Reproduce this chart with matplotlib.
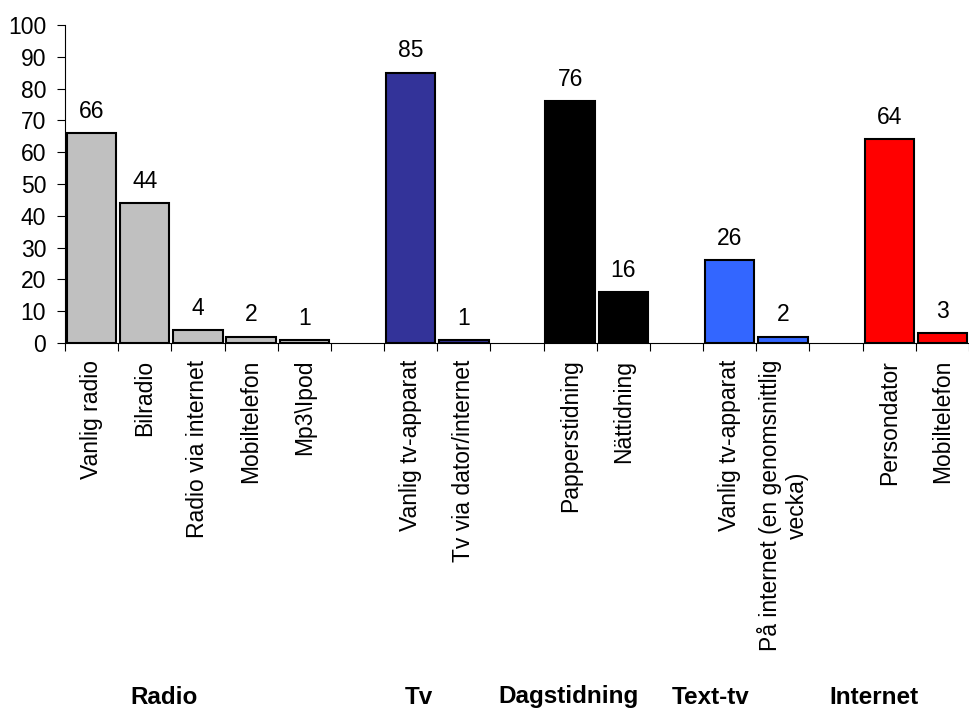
import matplotlib as mpl

mpl.use("Agg")

import matplotlib.pyplot as plt
import matplotlib.transforms as mtransforms
import numpy as np

# data
groups = ["Radio", "Tv", "Dagstidning", "Text-tv", "Internet"]
radio_labels = ["Vanlig radio", "Bilradio", "Radio via internet", "Mobiltelefon", "Mp3\\Ipod"]
radio_values = [66, 44, 4, 2, 1]
tv_labels = ["Vanlig tv-apparat", "Tv via dator/internet"]
tv_values = [85, 1]
dags_labels = ["Papperstidning", "Nättidning"]
dags_values = [76, 16]
texttv_labels = ["Vanlig tv-apparat", "På internet (en genomsnittlig\nvecka)"]
texttv_values = [26, 2]
internet_labels = ["Persondator", "Mobiltelefon"]
internet_values = [64, 3]

group_colors = ["#C0C0C0", "#333399", "#000000", "#3366FF", "#FF0000"]
# group label x (in slot units)
group_label_x = [1.86, 6.66, 9.46, 12.15, 15.21]

plt.rcParams["font.family"] = ["Liberation Sans", "DejaVu Sans"]

fig = plt.figure(figsize=(9.69, 7.09), dpi=100)
ax = fig.add_axes([65 / 969, 1 - 343 / 709, 904 / 969, (343 - 25) / 709])

all_sets = [
    (radio_labels, radio_values),
    (tv_labels, tv_values),
    (dags_labels, dags_values),
    (texttv_labels, texttv_values),
    (internet_labels, internet_values),
]

FS = 16.5

pos = 0
tick_pos, tick_lab = [], []
for (labs, vals), col in zip(all_sets, group_colors):
    xs = np.arange(pos, pos + len(vals)) + 0.5
    ax.bar(xs, vals, width=0.93, color=col, edgecolor="black", linewidth=1.5)
    for x, v in zip(xs, vals):
        ax.annotate(f"{v}", (x, v), xytext=(0, 11), textcoords="offset points",
                    ha="center", va="baseline", fontsize=FS)
    tick_pos.extend(xs)
    tick_lab.extend(labs)
    pos += len(vals) + 1
n_slots = pos - 1

ax.set_xlim(0, n_slots)
ax.set_ylim(0, 100)
ax.set_yticks(np.arange(0, 101, 10))
ax.set_xticks(tick_pos)
ax.set_xticklabels(tick_lab, rotation=90, ha="center", va="top", multialignment="center")
ax.set_xticks(np.arange(0, n_slots + 1), minor=True)
ax.tick_params(axis="x", which="major", length=0, pad=12, labelsize=FS)
ax.tick_params(axis="x", which="minor", length=5.5, width=0.8, direction="out")
ax.tick_params(axis="y", length=5.5, width=0.8, direction="out", pad=8, labelsize=FS)

for s in ["top", "right"]:
    ax.spines[s].set_visible(False)
for s in ["left", "bottom"]:
    ax.spines[s].set_linewidth(0.8)

trans = mtransforms.blended_transform_factory(ax.transData, fig.transFigure)
for g, gx in zip(groups, group_label_x):
    ax.text(gx, 1 - 697 / 709, g, transform=trans, ha="center", va="center",
            fontsize=17.5, fontweight="bold", clip_on=False)

fig.savefig("out.png", dpi=100, facecolor="white")
